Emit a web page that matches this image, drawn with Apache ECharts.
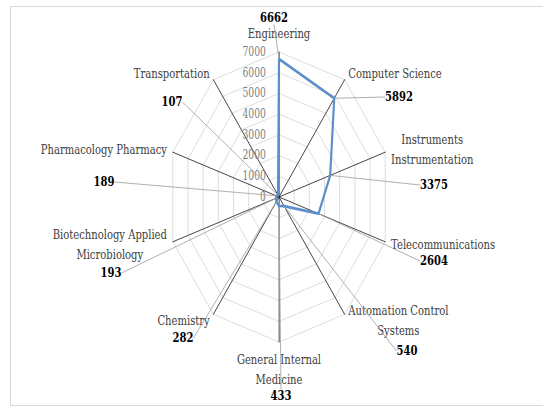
<!DOCTYPE html>
<html>
<head>
<meta charset="utf-8">
<script src="https://cdn.jsdelivr.net/npm/echarts@6/dist/echarts.min.js"></script>
<style>
html, body { margin: 0; padding: 0; background: #fff; overflow: hidden; }
#frame {
  position: absolute; left: 10px; top: 6px; width: 540px; height: 398px;
  border: 1px solid #d9d9d9; border-right: none;
}
/* the source picture is squeezed horizontally, so draw wide and squeeze */
#chart {
  position: absolute; left: 0; top: 0; width: 706px; height: 406px;
  transform: scaleX(0.77); transform-origin: 0 0;
}
</style>
</head>
<body>
<div id="frame"></div>
<div id="chart"></div>
<script>
const SX = 0.77
const FONT = '"DejaVu Serif", "Liberation Serif", serif'
const LINE = '#5b8fcb'

// clockwise from the top
const categories = [
  'Engineering',
  'Computer Science',
  'Instruments\nInstrumentation',
  'Telecommunications',
  'Automation Control\nSystems',
  'General Internal\nMedicine',
  'Chemistry',
  'Biotechnology Applied\nMicrobiology',
  'Pharmacology Pharmacy',
  'Transportation',
]
const counts = [6662, 5892, 3375, 2604, 540, 433, 282, 193, 189, 107]
const tickMax = 7000
const tickStep = 1000

// screen spot (px) of each value label, same order as counts
const labelSpots = [
  [274, 18], [399, 97], [434, 185], [434, 261], [407, 351],
  [281, 396], [183, 338], [111, 273], [104, 182], [172, 102],
]

// echarts radar runs counter-clockwise, so flip everything after the first
const order = [0].concat(categories.map((_, i) => i).slice(1).reverse())

const chart = echarts.init(document.getElementById('chart'), null, { renderer: 'svg' })

const option = {
  animation: false,
  backgroundColor: 'transparent',
  radar: {
    center: [279 / SX, 197],
    radius: 145,
    startAngle: 90,
    shape: 'polygon',
    splitNumber: tickMax / tickStep,
    nameGap: 8,
    indicator: order.map((k, i) => {
      const ind = { name: categories[k], min: 0, max: tickMax }
      if (i === 0) ind.axisLabel = { show: true }
      return ind
    }),
    axisName: {
      color: '#404040',
      fontFamily: FONT,
      fontSize: 13,
      formatter: name => name.split('\n').map(s => '{c|' + s + '}').join('\n'),
      rich: {
        c: { align: 'center', lineHeight: 20, fontFamily: FONT, fontSize: 13, color: '#404040' },
      },
    },
    axisLine: { show: true, lineStyle: { color: '#2e2e2e', width: 1 } },
    axisTick: { show: false },
    axisLabel: {
      show: false,
      color: '#7f7f7f',
      fontFamily: FONT,
      fontSize: 12,
      margin: 17,
      formatter: v => String(v),
    },
    splitLine: { lineStyle: { color: '#d9d9d9', width: 1 } },
    splitArea: { show: false },
  },
  series: [
    {
      type: 'radar',
      silent: true,
      symbol: 'circle',
      symbolSize: 2,
      itemStyle: { color: LINE },
      lineStyle: { color: LINE, width: 2.8 },
      label: {
        show: true,
        color: '#000',
        fontFamily: FONT,
        fontWeight: 'bold',
        fontSize: 13,
      },
      labelLine: { show: true, lineStyle: { color: '#a6a6a6', width: 1 } },
      labelLayout: p => {
        const k = counts.findIndex(v => String(v) === String(p.text))
        if (k < 0) return {}
        return {
          x: labelSpots[k][0] / SX,
          y: labelSpots[k][1],
          align: 'center',
          verticalAlign: 'middle',
        }
      },
      data: [{ value: order.map(k => counts[k]) }],
    },
  ],
}

chart.setOption(option)
</script>
</body>
</html>
